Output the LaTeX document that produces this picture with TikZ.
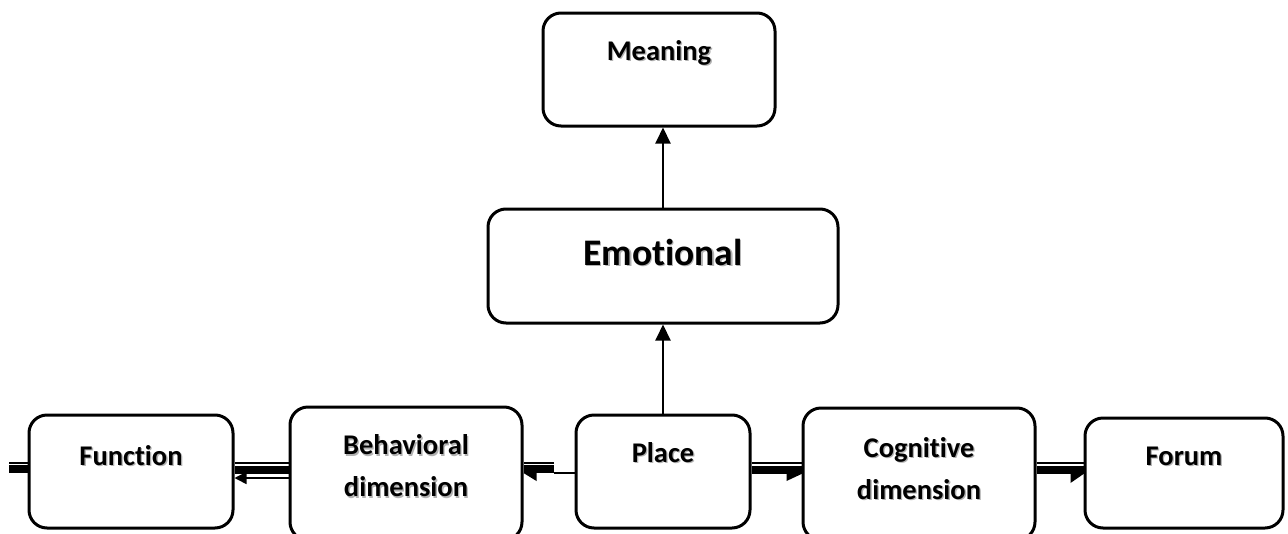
\documentclass[tikz,border=0pt]{standalone}
\usepackage{fontspec}
\setmainfont{Carlito}[Ligatures={NoCommon}]
\usetikzlibrary{calc,arrows.meta}
\newcommand\shd[1]{\leavevmode\rlap{\kern1.3pt\raisebox{-1.3pt}{\textcolor{black!30}{#1}}}#1}
\begin{document}
\begin{tikzpicture}[x=1pt,y=-1pt,
  box/.style={draw,line width=3pt,rounded corners=18pt,inner sep=0pt,fill=white},
  lbl/.style={font=\bfseries\fontsize{28.5}{42}\selectfont,inner sep=0pt,align=center},
  biglbl/.style={font=\bfseries\fontsize{37.5}{44}\selectfont,inner sep=0pt,align=center},
  thinl/.style={line width=1.5pt},
  bar/.style={line width=8pt},
  varrow/.style={line width=2pt,-{Triangle[length=16pt,width=15pt]}},
  harrow/.style={line width=1.5pt,-{Triangle[length=12pt,width=12pt]}},
]
\useasboundingbox (0,0) rectangle (1288,533);

% boxes
\node[box,minimum width=232pt,minimum height=113pt] (mean) at (659,69.5) {};
\node[box,minimum width=350pt,minimum height=114pt] (emo) at (663,266) {};
\node[box,minimum width=204pt,minimum height=113pt] (fun) at (131,471.5) {};
\node[box,minimum width=232pt,minimum height=133pt] (beh) at (406,473.5) {};
\node[box,minimum width=174pt,minimum height=113pt] (pl) at (663,471.5) {};
\node[box,minimum width=232pt,minimum height=132pt] (cog) at (919,474) {};
\node[box,minimum width=198pt,minimum height=110pt] (for) at (1184,473) {};

% labels
\node[lbl,anchor=base] (meanT) at (659,60) {\shd{Meaning}};
\node[biglbl,anchor=base] (emoT) at (663,265) {\shd{Emotional}};
\node[lbl,anchor=base] (funT) at (131,465) {\shd{Function}};
\node[lbl,anchor=center] (behT) at (406,466.5) {\shd{Behavioral}\\\shd{dimension}};
\node[lbl,anchor=base] (plT) at (663,462) {\shd{Place}};
\node[lbl,anchor=center] (cogT) at (919,469) {\shd{Cognitive}\\\shd{dimension}};
\node[lbl,anchor=base] (forT) at (1184,465) {\shd{Forum}};

% helper levels
\coordinate (yT) at (0,463);
\coordinate (yBa) at (0,469);
\coordinate (yBb) at (0,470);
\coordinate (yC) at (0,473);
\coordinate (yD) at (0,474);
\coordinate (yE) at (0,478);
\coordinate (stub) at (9,463);
\coordinate (brk) at (554,463);

% vertical arrows
\draw[varrow] (pl.north) -- (emo.south);
\draw[varrow] (emo.north) -- (emo.north |- mean.south);

% stub into Function
\draw[thinl] (stub) -- (fun.west |- yT);
\draw[bar] (stub |- yBa) -- (fun.west |- yBa);

% Behavioral -> Function
\draw[thinl] (beh.west |- yT) -- (fun.east |- yT);
\draw[bar] (beh.west |- yBb) -- (fun.east |- yBb);
\draw[harrow] (beh.west |- yE) -- (fun.east |- yE);

% Place -> Behavioral
\draw[thinl] (brk) -- (beh.east |- yT);
\draw[bar] (brk |- yBa) -- (beh.east |- yBa);
\draw[thinl] (pl.west |- yC) -- (brk |- yC);
\fill (beh.east |- yC) -- ++(13,0) -- ++(0,8) -- cycle;

% Place -> Cognitive
\draw[thinl] (pl.east |- yT) -- (cog.west |- yT);
\draw[bar] (pl.east |- yBb) -- (cog.west |- yBb);
\fill (cog.west |- yD) -- ++(-15,0) -- ++(0,7) -- cycle;

% Cognitive -> Forum
\draw[thinl] (cog.east |- yT) -- (for.west |- yT);
\draw[bar] (cog.east |- yBb) -- (for.west |- yBb);
\fill (for.west |- yD) -- ++(-13,0) -- ++(0,9) -- cycle;
\end{tikzpicture}
\end{document}
